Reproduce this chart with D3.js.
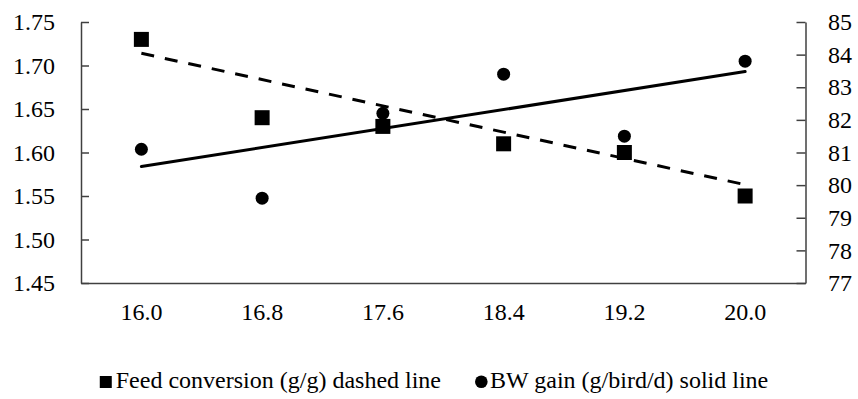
<!DOCTYPE html>
<html>
<head>
<meta charset="utf-8">
<script src="https://cdn.jsdelivr.net/npm/d3@7"></script>
<style>
  html, body { margin: 0; padding: 0; background: #fff; }
  svg { display: block; }
</style>
</head>
<body>
<div id="chart"></div>
<script>
// Chart data
const categories = ["16.0", "16.8", "17.6", "18.4", "19.2", "20.0"];
const feedConversion = [1.73, 1.64, 1.63, 1.61, 1.60, 1.55];   // left axis, squares
const bwGain = [81.1, 79.6, 82.2, 83.4, 81.5, 83.8];            // right axis, circles
// trend line values at the first and last category
const feedTrend = [1.714, 1.563];
const bwTrend = [80.57, 83.48];
const leftTicks = [1.45, 1.50, 1.55, 1.60, 1.65, 1.70, 1.75];
const rightTicks = [77, 78, 79, 80, 81, 82, 83, 84, 85];
const legendLabels = ["Feed conversion (g/g) dashed line", "BW gain (g/bird/d) solid line"];

const W = 858, H = 399;
const margin = {top: 22, right: 52.5, bottom: 116, left: 81};
const plotW = W - margin.left - margin.right,
      plotH = H - margin.top - margin.bottom;
// the generic serif face only renders at a whole size like 24px,
// and it goes on each text element
const font = "serif";
const fontSize = "24px";

const svg = d3.select("#chart").append("svg")
    .attr("width", W)
    .attr("height", H);

const g = svg.append("g")
    .attr("transform", `translate(${margin.left},${margin.top})`);

const x = d3.scaleBand()
    .domain(categories)
    .range([0, plotW])
    .padding(0);
const cx = d => x(d) + x.bandwidth() / 2;

const yL = d3.scaleLinear().domain([1.45, 1.75]).range([plotH, 0]);
const yR = d3.scaleLinear().domain([77, 85]).range([plotH, 0]);

const axisColor = "#404040";

// left axis, ticks pointing inward
const leftAxis = g.append("g")
    .call(d3.axisLeft(yL).tickValues(leftTicks).tickFormat(d3.format(".2f"))
        .tickSizeInner(-8).tickSizeOuter(0).tickPadding(26));
// right axis
const rightAxis = g.append("g")
    .attr("transform", `translate(${plotW},0)`)
    .call(d3.axisRight(yR).tickValues(rightTicks).tickFormat(d3.format("d"))
        .tickSizeInner(-9).tickSizeOuter(0).tickPadding(22.5));
// bottom axis, no tick marks
const bottomAxis = g.append("g")
    .attr("transform", `translate(0,${plotH})`)
    .call(d3.axisBottom(x).tickSize(0).tickPadding(19.5));

[leftAxis, rightAxis, bottomAxis].forEach(a => {
    a.attr("font-family", null).attr("font-size", null);
    a.select(".domain").attr("stroke", axisColor).attr("stroke-width", 1.5);
    a.selectAll(".tick line").attr("stroke", axisColor).attr("stroke-width", 1.5);
    a.selectAll("text")
        .attr("font-family", font)
        .attr("font-size", fontSize)
        .attr("fill", "#000");
});

// trend lines
const first = categories[0], last = categories[categories.length - 1];
g.append("line")
    .attr("x1", cx(first)).attr("y1", yL(feedTrend[0]))
    .attr("x2", cx(last)).attr("y2", yL(feedTrend[1]))
    .attr("stroke", "#000")
    .attr("stroke-width", 3)
    .attr("stroke-dasharray", "13,11");
g.append("line")
    .attr("x1", cx(first)).attr("y1", yR(bwTrend[0]))
    .attr("x2", cx(last)).attr("y2", yR(bwTrend[1]))
    .attr("stroke", "#000")
    .attr("stroke-width", 3)
    .attr("stroke-linecap", "round");

// markers
const sq = 15;
g.selectAll("rect.feed")
    .data(feedConversion)
    .enter()
    .append("rect")
    .attr("class", "feed")
    .attr("x", (d, i) => cx(categories[i]) - sq / 2)
    .attr("y", d => yL(d) - sq / 2)
    .attr("width", sq)
    .attr("height", sq)
    .attr("fill", "#000");

g.selectAll("circle.bw")
    .data(bwGain)
    .enter()
    .append("circle")
    .attr("class", "bw")
    .attr("cx", (d, i) => cx(categories[i]))
    .attr("cy", d => yR(d))
    .attr("r", 6.5)
    .attr("fill", "#000");

// legend, markers sit on the text baseline
const legend = svg.append("g").attr("transform", "translate(0,388)");
const item1 = legend.append("g");
item1.append("rect").attr("x", 0).attr("y", -12).attr("width", 12).attr("height", 12).attr("fill", "#000");
item1.append("text").attr("x", 16).attr("y", 0)
    .attr("font-family", font).attr("font-size", fontSize).attr("fill", "#000")
    .text(legendLabels[0]);
const item2 = legend.append("g");
item2.append("circle").attr("cx", 6.3).attr("cy", -6.3).attr("r", 6.3).attr("fill", "#000");
item2.append("text").attr("x", 15).attr("y", 0)
    .attr("font-family", font).attr("font-size", fontSize).attr("fill", "#000")
    .text(legendLabels[1]);

const w1 = item1.node().getBBox().width, w2 = item2.node().getBBox().width;
const gap = 34;
const start = 434 - (w1 + gap + w2) / 2;
item1.attr("transform", `translate(${start},0)`);
item2.attr("transform", `translate(${start + w1 + gap},0)`);
</script>
</body>
</html>
